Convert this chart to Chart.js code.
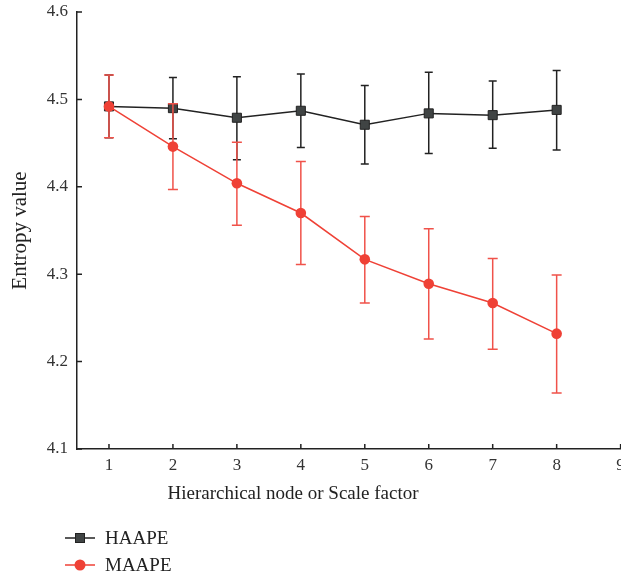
<!DOCTYPE html>
<html><head><meta charset="utf-8">
<script src="https://cdn.jsdelivr.net/npm/chart.js@4.4.1/dist/chart.umd.min.js"></script>
<style>html,body{margin:0;padding:0;overflow:hidden;background:#fff;width:621px;height:580px}#wrap{width:650px;height:580px;position:relative}</style>
</head><body><div id="wrap"><canvas id="c" width="650" height="580"></canvas></div>
<script>
const xValues = [1,2,3,4,5,6,7,8];
const xTicks = [1,2,3,4,5,6,7,8,9];
const yTicks = [4.1,4.2,4.3,4.4,4.5,4.6];
const haapeMean  = [4.492,4.490,4.479,4.487,4.471,4.484,4.482,4.488];
const haapeUpper = [4.528,4.525,4.526,4.529,4.516,4.531,4.521,4.533];
const haapeLower = [4.456,4.455,4.431,4.445,4.426,4.438,4.444,4.442];
const maapeMean  = [4.492,4.446,4.404,4.370,4.317,4.289,4.267,4.232];
const maapeUpper = [4.528,4.495,4.451,4.429,4.366,4.352,4.318,4.299];
const maapeLower = [4.456,4.397,4.356,4.311,4.267,4.226,4.214,4.164];
const seriesNames = ['HAAPE','MAAPE'];
const xTitle = 'Hierarchical node or Scale factor';
const yTitle = 'Entropy value';

const FONT = '"Liberation Serif", "DejaVu Serif", serif';
const BLACK = '#222222', SQFILL = '#404444', RED = '#ef4136', REDBAR = '#f0524a';

const errSpec = [
  {u: haapeUpper, l: haapeLower, c: BLACK, cap: 4},
  {u: maapeUpper, l: maapeLower, c: REDBAR, cap: 5}
];

const plug = {
  id: 'custom',
  beforeDatasetDraw(chart, args) {
    const s = errSpec[args.index];
    const ctx = chart.ctx, xs = chart.scales.x, ys = chart.scales.y;
    ctx.save();
    ctx.strokeStyle = s.c; ctx.lineWidth = 1.5;
    xValues.forEach((x, i) => {
      const px = xs.getPixelForValue(x), pu = ys.getPixelForValue(s.u[i]), pl = ys.getPixelForValue(s.l[i]);
      ctx.beginPath();
      ctx.moveTo(px, pu); ctx.lineTo(px, pl);
      ctx.moveTo(px - s.cap, pu); ctx.lineTo(px + s.cap, pu);
      ctx.moveTo(px - s.cap, pl); ctx.lineTo(px + s.cap, pl);
      ctx.stroke();
    });
    ctx.restore();
  },
  afterDraw(chart) {
    const ctx = chart.ctx, xs = chart.scales.x, ys = chart.scales.y, a = chart.chartArea;
    ctx.save();
    ctx.strokeStyle = BLACK; ctx.lineWidth = 1.5;
    ctx.beginPath();
    xTicks.forEach(v => { const p = xs.getPixelForValue(v); ctx.moveTo(p, a.bottom); ctx.lineTo(p, a.bottom - 5); });
    yTicks.forEach(v => { const p = ys.getPixelForValue(v); ctx.moveTo(a.left, p); ctx.lineTo(a.left + 5, p); });
    ctx.stroke();
    ctx.fillStyle = BLACK;
    ctx.font = '19px ' + FONT;
    ctx.textAlign = 'center'; ctx.textBaseline = 'middle';
    ctx.fillText(xTitle, 293, 494);
    const rows = [
      {name: seriesNames[0], y: 538, c: BLACK, fill: SQFILL, shape: 'sq'},
      {name: seriesNames[1], y: 565, c: RED, fill: RED, shape: 'ci'}
    ];
    rows.forEach(r => {
      ctx.strokeStyle = r.c; ctx.lineWidth = 1.5;
      ctx.beginPath(); ctx.moveTo(65, r.y); ctx.lineTo(95, r.y); ctx.stroke();
      ctx.fillStyle = r.fill;
      if (r.shape === 'sq') { ctx.fillRect(75.5, r.y - 4.5, 9, 9); ctx.lineWidth = 1; ctx.strokeRect(75.5, r.y - 4.5, 9, 9); }
      else { ctx.beginPath(); ctx.arc(80, r.y, 5.5, 0, Math.PI * 2); ctx.fill(); }
      ctx.fillStyle = BLACK; ctx.textAlign = 'left'; ctx.textBaseline = 'middle';
      ctx.fillText(r.name, 105, r.y + 1);
    });
    ctx.restore();
  }
};

new Chart(document.getElementById('c'), {
  type: 'line',
  data: {
    datasets: [
      {label: seriesNames[0], data: xValues.map((x, i) => ({x, y: haapeMean[i]})), order: 1,
       borderColor: BLACK, borderWidth: 1.5, pointStyle: 'rect', pointRadius: 6.4,
       pointBackgroundColor: SQFILL, pointBorderColor: BLACK, pointBorderWidth: 1, tension: 0},
      {label: seriesNames[1], data: xValues.map((x, i) => ({x, y: maapeMean[i]})), order: 0,
       borderColor: RED, borderWidth: 1.5, pointStyle: 'circle', pointRadius: 5.3,
       pointBackgroundColor: RED, pointBorderColor: RED, pointBorderWidth: 0, tension: 0}
    ]
  },
  options: {
    responsive: false, animation: false,
    layout: {padding: {left: 0, right: 23, top: 12, bottom: 91}},
    plugins: {legend: {display: false}, tooltip: {enabled: false}},
    scales: {
      x: {
        type: 'linear', min: 0.5, max: 9.1,
        afterBuildTicks: s => { s.ticks = xTicks.map(v => ({value: v})); },
        afterFit: s => { s.height = 40; },
        grid: {display: false, drawTicks: false},
        border: {display: true, color: BLACK, width: 1.5},
        ticks: {padding: 6, color: '#333', font: {family: FONT, size: 17}, autoSkip: false, maxRotation: 0,
                callback: v => String(v)}
      },
      y: {
        type: 'linear', min: 4.1, max: 4.6,
        afterBuildTicks: s => { s.ticks = yTicks.map(v => ({value: v})); },
        afterFit: s => { s.width = 77; },
        grid: {display: false, drawTicks: false},
        border: {display: true, color: BLACK, width: 1.5},
        title: {display: true, text: yTitle, color: BLACK, font: {family: FONT, size: 21}, padding: {top: 8, bottom: 0}},
        ticks: {padding: 9, color: '#333', font: {family: FONT, size: 17, lineHeight: 0.3}, callback: v => Number(v).toFixed(1)}
      }
    }
  },
  plugins: [plug]
});
</script></body></html>
